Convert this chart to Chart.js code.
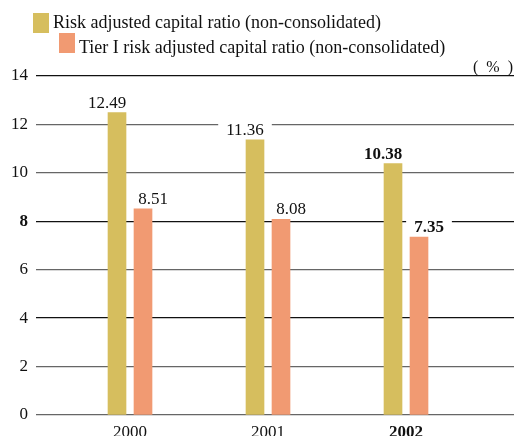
<!DOCTYPE html>
<html>
<head>
<meta charset="utf-8">
<script src="https://cdn.jsdelivr.net/npm/chart.js@4"></script>
<style>
html, body { margin: 0; padding: 0; background: #fff; }
</style>
</head>
<body>
<canvas id="myChart" width="518" height="436"></canvas>
<script>
// DATA
const years = [2000, 2001, 2002];
const riskRatio = [12.49, 11.36, 10.38];
const tierOneRatio = [8.51, 8.08, 7.35];
const seriesNames = [
    'Risk adjusted capital ratio (non-consolidated)',
    'Tier I risk adjusted capital ratio (non-consolidated)'
];
const unitLabel = '(  %  )';

const serif = "'Liberation Serif', 'Times New Roman', serif";
const gold = '#d6be5e';
const salmon = '#f19a72';

// custom staggered legend + unit text
const topLegend = {
    id: 'topLegend',
    afterDraw(chart) {
        const c = chart.ctx;
        c.save();
        c.font = '18px ' + serif;
        c.textBaseline = 'alphabetic';
        chart.data.datasets.forEach((ds, i) => {
            const x = 33 + i * 26;
            const y = 13 + i * 20;
            c.fillStyle = ds.backgroundColor;
            c.fillRect(x, y, 16, 20);
            c.fillStyle = '#111';
            c.textAlign = 'left';
            c.fillText(ds.label, x + 20, 28 + i * 25);
        });
        c.font = '16px ' + serif;
        c.textAlign = 'right';
        c.fillText(unitLabel, 513, 72);
        c.restore();
    }
};

// value labels above the bars, white box behind
const valueLabels = {
    id: 'valueLabels',
    afterDatasetsDraw(chart) {
        const c = chart.ctx;
        c.save();
        c.textAlign = 'center';
        c.textBaseline = 'alphabetic';
        chart.data.datasets.forEach((ds, di) => {
            const meta = chart.getDatasetMeta(di);
            meta.data.forEach((bar, i) => {
                const txt = ds.data[i].toFixed(2);
                const bold = years[i] === 2002;
                c.font = (bold ? 'bold ' : '') + '17px ' + serif;
                const x = bar.x + (di === 0 ? -10 : 10);
                const y = bar.y - 5;
                const w = c.measureText(txt).width;
                c.fillStyle = '#fff';
                c.fillRect(x - w / 2 - 8, y - 13, w + 16, 15);
                c.fillStyle = '#111';
                c.fillText(txt, x, y);
            });
        });
        c.restore();
    }
};

const ctx = document.getElementById('myChart').getContext('2d');
const myChart = new Chart(ctx, {
    type: 'bar',
    data: {
        labels: years,
        datasets: [{
            label: seriesNames[0],
            data: riskRatio,
            backgroundColor: gold
        }, {
            label: seriesNames[1],
            data: tierOneRatio,
            backgroundColor: salmon
        }]
    },
    options: {
        responsive: false,
        animation: false,
        devicePixelRatio: 1,
        barThickness: 26,
        maxBarThickness: 18,
        layout: { padding: { top: 76, right: 4, left: 0, bottom: 0 } },
        plugins: {
            legend: { display: false },
            tooltip: { enabled: false }
        },
        scales: {
            x: {
                type: 'linear',
                bounds: 'data',
                offset: false,
                min: 1999.3188,
                max: 2002.7826,
                grid: { display: false, drawTicks: false },
                border: { display: false },
                afterDataLimits: s => { s.min = 1999.3188; s.max = 2002.7826; },
                afterBuildTicks: s => { s.ticks = years.map(v => ({ value: v })); },
                afterFit: s => { s.height = 21; },
                ticks: {
                    stepSize: 1,
                    padding: 7,
                    color: '#111',
                    callback: v => String(v),
                    font: c => ({
                        family: serif,
                        size: 17,
                        weight: c.tick && c.tick.value === 2002 ? 'bold' : 'normal'
                    })
                }
            },
            y: {
                min: 0,
                max: 14,
                border: { display: false },
                afterFit: s => { s.width = 36; },
                grid: {
                    drawTicks: false,
                    lineWidth: 1.3,
                    color: c => ([14, 8, 4].includes(c.tick.value) ? '#111' : '#666')
                },
                ticks: {
                    stepSize: 2,
                    padding: 8,
                    color: '#111',
                    font: c => ({
                        family: serif,
                        size: 17,
                        weight: c.tick && c.tick.value === 8 ? 'bold' : 'normal'
                    })
                }
            }
        }
    },
    plugins: [topLegend, valueLabels]
});
</script>
</body>
</html>
